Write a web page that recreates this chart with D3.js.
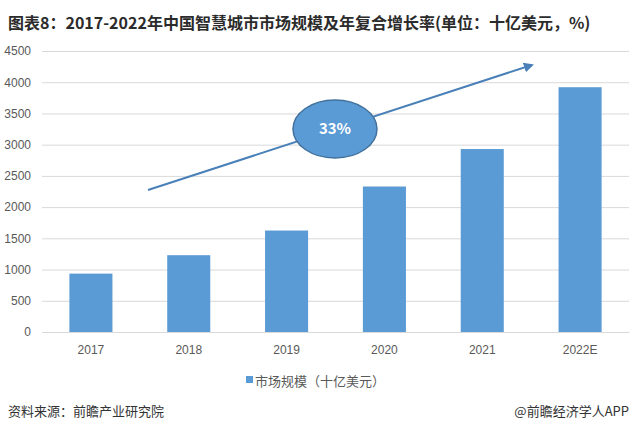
<!DOCTYPE html>
<html><head><meta charset="utf-8">
<script src="https://cdn.jsdelivr.net/npm/d3@7"></script>
<style>body{margin:0;background:#fff;} svg{display:block;font-family:"Noto Sans CJK SC","Noto Sans",sans-serif;}</style>
</head><body>
<svg id="c" width="636" height="433"></svg>
<script>
const categories = ["2017","2018","2019","2020","2021","2022E"];
const values = [935, 1230, 1625, 2330, 2930, 3920];
const yTicks = [0,500,1000,1500,2000,2500,3000,3500,4000,4500];
const title = "图表8：2017-2022年中国智慧城市市场规模及年复合增长率(单位：十亿美元，%)";
const legendLabel = "市场规模（十亿美元）";
const cagrLabel = "33%";
const source = "资料来源：前瞻产业研究院";
const credit = "@前瞻经济学人APP";

(function(){
const svg = d3.select("#c");
const pL = 42, pR = 629, pT = 51, pB = 332;
const x = d3.scaleBand().domain(categories).range([pL, pR]).paddingInner(0.56).paddingOuter(0.28);
const y = d3.scaleLinear().domain([0,4500]).range([pB, pT]);

svg.append("text").attr("x",8).attr("y",29).attr("font-size",16).attr("font-weight","bold")
  .attr("fill","#2b2b2b").text(title);

const yAxis = d3.axisLeft(y).tickValues(yTicks).tickSize(-(pR-pL)).tickPadding(11).tickFormat(d3.format("d"));
const gy = svg.append("g").attr("transform",`translate(${pL},0)`).call(yAxis);
gy.select(".domain").remove();
gy.selectAll(".tick line").attr("stroke","#d9d9d9");
gy.selectAll(".tick text").attr("fill","#595959").attr("font-size",12);

svg.append("g").selectAll("rect").data(values).join("rect")
  .attr("x",(d,i)=>x(categories[i])).attr("width",x.bandwidth())
  .attr("y",d=>y(d)).attr("height",d=>pB-y(d)).attr("fill","#5b9bd5");

const xAxis = d3.axisBottom(x).tickSize(0).tickPadding(13);
const gx = svg.append("g").attr("transform",`translate(0,${pB})`).call(xAxis);
gx.select(".domain").attr("stroke","#d9d9d9");
gx.selectAll(".tick text").attr("fill","#595959").attr("font-size",12);

const defs = svg.append("defs");
defs.append("marker").attr("id","ah").attr("viewBox","0 0 10 10").attr("refX",8).attr("refY",5)
  .attr("markerWidth",5).attr("markerHeight",5).attr("orient","auto")
  .append("path").attr("d","M0,0L10,5L0,10z").attr("fill","#4a80b8");
svg.append("line").attr("x1",148).attr("y1",190).attr("x2",532).attr("y2",65)
  .attr("stroke","#4a80b8").attr("stroke-width",2).attr("marker-end","url(#ah)");
svg.append("ellipse").attr("cx",335).attr("cy",129).attr("rx",42).attr("ry",29)
  .attr("fill","#5b9bd5").attr("stroke","#41719c").attr("stroke-width",1.5);
svg.append("text").attr("x",335).attr("y",134).attr("text-anchor","middle").attr("font-size",15)
  .attr("font-weight","bold").attr("fill","#fff").text(cagrLabel);

svg.append("rect").attr("x",246).attr("y",376).attr("width",7).attr("height",7).attr("fill","#5b9bd5");
svg.append("text").attr("x",255).attr("y",386).attr("font-size",13).attr("fill","#595959").text(legendLabel);

svg.append("text").attr("x",8).attr("y",416).attr("font-size",13).attr("fill","#333").text(source);
svg.append("text").attr("x",629).attr("y",416).attr("text-anchor","end").attr("font-size",13).attr("fill","#333").text(credit);
})();
</script>
</body></html>
